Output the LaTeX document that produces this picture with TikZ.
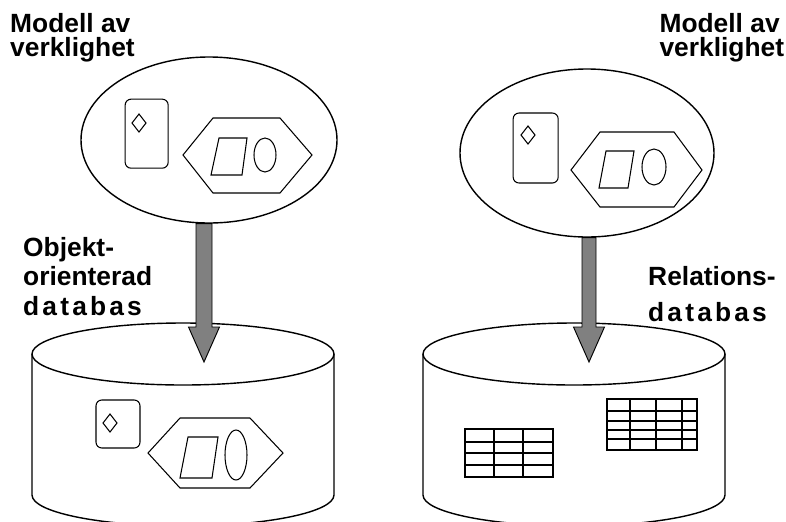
\documentclass[tikz,border=0pt]{standalone}
\usepackage{fontspec}
\setmainfont{Liberation Sans}
\usepackage{tikz}
\usetikzlibrary{positioning,shapes.geometric,calc}

\begin{document}
\begin{tikzpicture}[
                bigline/.style={draw=black, line width=1.2pt},
                thinline/.style={draw=black, line width=0.9pt},
                tabline/.style={draw=black, line width=1.2pt},
                modelnode/.style={ellipse, bigline, fill=white, inner sep=0pt},
                cardbox/.style={rectangle, rounded corners=5pt, thinline, inner sep=0pt},
                textlabel/.style={font=\fontsize{22.5}{21}\selectfont\bfseries, align=left, inner sep=0pt, anchor=north west},
                bigarrow/.style={draw=black, line width=0.8pt, fill=black!50,
                    to path={let \p1=(\tikztostart), \p2=(\tikztotarget) in
                        ({\x1-#1},\y1) -- ({\x1-#1},{\y2+1.05cm}) -- ({\x1-0.465cm},{\y2+1.05cm}) -- (\x1,\y2)
                        -- ({\x1+0.465cm},{\y2+1.05cm}) -- ({\x1+#1},{\y2+1.05cm}) -- ({\x1+#1},\y1) -- cycle}}
                ]
                \useasboundingbox (0,0) rectangle (23.58,-15.63);

                % labels
                \node[textlabel] (modelLtext) at (0.30,-0.38) {Modell av\\verklighet};
                \node[textlabel] (modelRtext) at (19.78,-0.38) {Modell av\\verklighet};
                \node[textlabel, font=\fontsize{22.5}{25.5}\selectfont\bfseries] (dbLtext) at (0.69,-7.10) {Objekt-\\orienterad\\{\addfontfeature{LetterSpace=12}databas}};
                \node[textlabel, font=\fontsize{22.5}{31}\selectfont\bfseries] (dbRtext) at (19.44,-7.97) {Relations-\\{\addfontfeature{LetterSpace=12}databas}};

                % models of reality
                \node[modelnode, minimum width=7.68cm, minimum height=4.98cm] (modelL) at (6.27,-4.20) {};
                \node[modelnode, minimum width=7.62cm, minimum height=5.04cm] (modelR) at (17.61,-4.59) {};

                \node[cardbox, minimum width=1.29cm, minimum height=2.07cm] (cardL) at (4.40,-4.01) {};
                \draw[thinline] (4.17,-3.42) -- (4.38,-3.69) -- (4.17,-3.96) -- (3.96,-3.69) -- cycle;
                \draw[thinline] (5.49,-4.65) -- (6.39,-3.54) -- (8.40,-3.54) -- (9.36,-4.65) -- (8.40,-5.79) -- (6.39,-5.79) -- cycle;
                \draw[thinline] (6.57,-4.14) -- (7.41,-4.14) -- (7.26,-5.25) -- (6.33,-5.25) -- cycle;
                \draw[thinline] (7.95,-4.65) ellipse [x radius=0.33, y radius=0.51];

                \node[cardbox, minimum width=1.35cm, minimum height=2.10cm] (cardR) at (16.07,-4.44) {};
                \draw[thinline] (15.84,-3.78) -- (16.05,-4.05) -- (15.84,-4.32) -- (15.63,-4.05) -- cycle;
                \draw[thinline] (17.13,-5.10) -- (18.00,-3.96) -- (20.22,-3.96) -- (21.06,-5.10) -- (20.22,-6.21) -- (18.00,-6.21) -- cycle;
                \draw[thinline] (18.18,-4.53) -- (19.02,-4.53) -- (18.84,-5.64) -- (17.97,-5.64) -- cycle;
                \draw[thinline] (19.62,-5.01) ellipse [x radius=0.36, y radius=0.54];

                % databases
                \coordinate (dbL) at (5.49,-10.62);
                \coordinate (dbR) at (17.22,-10.62);
                \draw[bigline] ($(dbL)+(-4.53,0)$) -- ($(dbL)+(-4.53,-4.23)$) arc[start angle=180, end angle=360, x radius=4.53, y radius=0.93] -- ($(dbL)+(4.53,0)$);
                \draw[bigline] (dbL) ellipse [x radius=4.53, y radius=0.93];
                \draw[bigline] ($(dbR)+(-4.53,0)$) -- ($(dbR)+(-4.53,-4.23)$) arc[start angle=180, end angle=360, x radius=4.53, y radius=0.93] -- ($(dbR)+(4.53,0)$);
                \draw[bigline] (dbR) ellipse [x radius=4.53, y radius=0.93];

                % objects stored as they are
                \node[cardbox, minimum width=1.32cm, minimum height=1.44cm] (cardDb) at (3.54,-12.72) {};
                \draw[thinline] (3.30,-12.42) -- (3.51,-12.69) -- (3.30,-12.96) -- (3.09,-12.69) -- cycle;
                \draw[thinline] (4.44,-13.59) -- (5.40,-12.54) -- (7.50,-12.54) -- (8.49,-13.59) -- (7.50,-14.64) -- (5.40,-14.64) -- cycle;
                \draw[thinline] (5.64,-13.11) -- (6.54,-13.11) -- (6.36,-14.34) -- (5.40,-14.34) -- cycle;
                \draw[thinline] (7.08,-13.65) ellipse [x radius=0.33, y radius=0.75];

                % tables
                \draw[tabline] (13.95,-12.87) rectangle (16.59,-14.31);
                \foreach \x in {14.82,15.69} \draw[tabline] (\x,-12.87) -- (\x,-14.31);
                \foreach \y in {-13.26,-13.59,-13.95} \draw[tabline] (13.95,\y) -- (16.59,\y);
                \draw[tabline] (18.21,-11.97) rectangle (20.91,-13.50);
                \foreach \x in {18.90,19.68,20.46} \draw[tabline] (\x,-11.97) -- (\x,-13.50);
                \foreach \y in {-12.33,-12.63,-12.90,-13.17} \draw[tabline] (18.21,\y) -- (20.91,\y);

                % mapping arrows
                \coordinate (tipL) at (6.12,-10.86);
                \coordinate (tipR) at (17.67,-10.86);
                \draw[bigarrow=0.24cm] (tipL |- modelL.south) to (tipL);
                \draw[bigarrow=0.21cm] (tipR |- modelR.south) to (tipR);
            \end{tikzpicture}
\end{document}
